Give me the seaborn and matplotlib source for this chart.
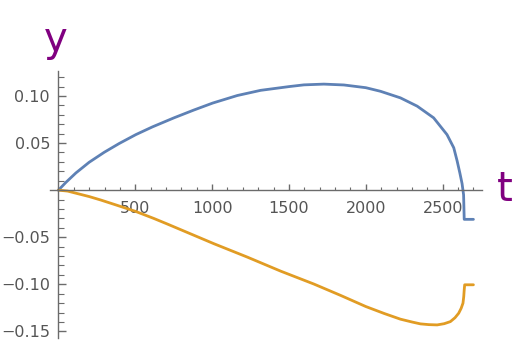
import matplotlib
matplotlib.use("Agg")
import matplotlib.pyplot as plt
import seaborn as sns
from matplotlib.ticker import MultipleLocator

# ============================================
# Data
# ============================================

blue_t = [0, 49, 114, 200, 298, 395, 504, 612, 752, 880, 1004, 1164, 1316,
          1502, 1597, 1727, 1857, 2000, 2095, 2225, 2334, 2441, 2528, 2572,
          2594, 2612, 2626, 2636, 2640, 2700]
blue_y = [0, 0.0083, 0.0183, 0.0296, 0.0402, 0.0495, 0.059, 0.0672, 0.0768,
          0.085, 0.0925, 0.1005, 0.106, 0.110, 0.1118, 0.1126, 0.1117, 0.1088,
          0.105, 0.098, 0.0892, 0.0768, 0.059, 0.045, 0.031, 0.018, 0.007,
          -0.005, -0.031, -0.031]

orange_t = [0, 60, 125, 200, 276, 380, 501, 620, 709, 796, 1012, 1229, 1446,
            1662, 1835, 2000, 2120, 2225, 2300, 2355, 2410, 2464, 2510, 2550,
            2580, 2604, 2620, 2632, 2637, 2640, 2643, 2700]
orange_y = [0, -0.001, -0.0037, -0.0068, -0.0105, -0.016, -0.0225, -0.030,
            -0.036, -0.042, -0.0569, -0.0711, -0.0860, -0.0997, -0.1117,
            -0.1236, -0.131, -0.137, -0.140, -0.142, -0.1428, -0.1431, -0.1418,
            -0.1396, -0.1355, -0.1307, -0.1255, -0.120, -0.113, -0.106,
            -0.1005, -0.1005]

x_ticks = [500, 1000, 1500, 2000, 2500]
y_ticks = [-0.15, -0.10, -0.05, 0.05, 0.10]
y_tick_labels = ["\u22120.15", "\u22120.10", "\u22120.05", "0.05", "0.10"]

# ============================================
# Plot
# ============================================

sns.set_style("ticks")
plt.rcParams["font.family"] = ["DejaVu Sans"]

axis_grey = "#6b6b6b"
label_grey = "#555555"

fig = plt.figure(figsize=(5.15, 3.42), dpi=100)
ax = fig.add_axes([0.097, 0.0117, 0.839, 0.782])

sns.lineplot(x=blue_t, y=blue_y, sort=False, estimator=None,
             color="#5E81B5", lw=2, ax=ax)
sns.lineplot(x=orange_t, y=orange_y, sort=False, estimator=None,
             color="#E19C24", lw=2, ax=ax)

ax.set_xlim(-55, 2756)
ax.set_ylim(-0.157, 0.127)

ax.spines["left"].set_position(("data", 0))
ax.spines["bottom"].set_position(("data", 0))
ax.spines["top"].set_visible(False)
ax.spines["right"].set_visible(False)
for s in ("left", "bottom"):
    ax.spines[s].set_color(axis_grey)
    ax.spines[s].set_linewidth(1)

ax.set_xticks(x_ticks)
ax.set_xticklabels([str(v) for v in x_ticks])
ax.set_yticks(y_ticks)
ax.set_yticklabels(y_tick_labels)
ax.xaxis.set_minor_locator(MultipleLocator(100))
ax.yaxis.set_minor_locator(MultipleLocator(0.01))

ax.tick_params(axis="x", which="major", direction="in", length=4, width=1,
               color=axis_grey, labelcolor=label_grey, labelsize=11.5, pad=8)
ax.tick_params(axis="x", which="minor", direction="in", length=2.5, width=0.8,
               color=axis_grey)
ax.tick_params(axis="y", which="major", direction="in", length=6, width=1,
               color=axis_grey, labelcolor=label_grey, labelsize=11.5, pad=6)
ax.tick_params(axis="y", which="minor", direction="in", length=4, width=0.8,
               color=axis_grey)

ax.set_xlabel("")
ax.set_ylabel("")

fig.text(56 / 515, 1 - 40 / 342, "y", color="#800080", fontsize=29,
         ha="center", va="center")
fig.text(505 / 515, 1 - 190 / 342, "t", color="#800080", fontsize=29,
         ha="center", va="center")

fig.savefig("out.png", dpi=100)
